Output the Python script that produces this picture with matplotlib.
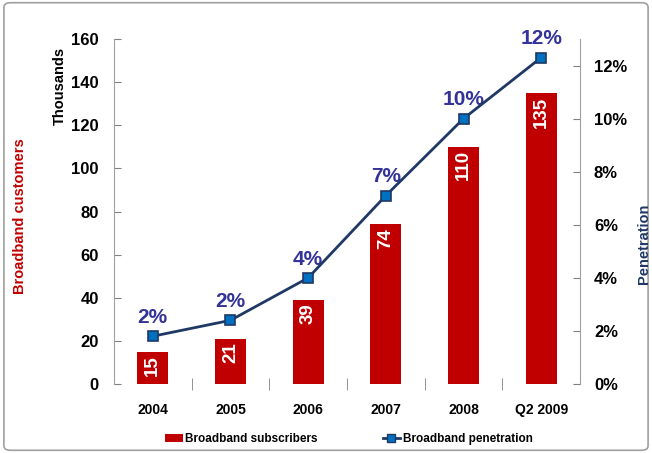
import matplotlib
matplotlib.use("Agg")
import matplotlib.pyplot as plt
from matplotlib.patches import FancyBboxPatch
from matplotlib.lines import Line2D
from matplotlib.patches import Patch
import numpy as np

plt.rcParams['font.family'] = ['Liberation Sans', 'DejaVu Sans']

categories = ["2004", "2005", "2006", "2007", "2008", "Q2 2009"]
subscribers = [15, 21, 39, 74, 110, 135]
penetration = [0.018, 0.024, 0.040, 0.071, 0.100, 0.123]
penetration_labels = ["2%", "2%", "4%", "7%", "10%", "12%"]

bar_color = "#C00000"
line_color = "#1F3864"
marker_face = "#0070C0"
pct_color = "#333399"

fig = plt.figure(figsize=(6.52, 4.53), dpi=100)
ax = fig.add_axes([0.1748, 0.1523, 0.7148, 0.7616])
x = np.arange(len(categories))

bars = ax.bar(x, subscribers, width=0.4, color=bar_color, zorder=2)
for xi, v in zip(x, subscribers):
    ax.annotate(str(v), (xi, v), xytext=(0, -2.5), textcoords="offset points",
                rotation=90, ha="center", va="top", color="white",
                fontsize=13.5, fontweight="bold", zorder=3)

ax.set_xlim(-0.5, len(categories) - 0.5)
ax.set_ylim(0, 160)
ax.set_yticks(range(0, 161, 20))
ax.set_xticks(x)
ax.set_xticklabels(categories, fontsize=10, fontweight="bold")
ax.set_xticks(np.arange(0.5, len(categories) - 1, 1), minor=True)
ax.tick_params(axis="x", which="major", length=0, pad=14)
ax.tick_params(axis="x", which="minor", length=8, direction="inout", color="#808080")
for lab in ax.get_yticklabels():
    lab.set_fontweight("bold")
ax.tick_params(axis="y", labelsize=12, direction="in", length=5, color="#808080", pad=11)
for s in ["top", "bottom", "right"]:
    ax.spines[s].set_visible(False)
ax.spines["left"].set_color("#A0A0A0")

ax2 = ax.twinx()
ax2.plot(x, penetration, color=line_color, lw=2, marker="s", markersize=6.5,
         markerfacecolor=marker_face, markeredgecolor=line_color, markeredgewidth=1.2, zorder=4)
for xi, v, t in zip(x, penetration, penetration_labels):
    ax2.annotate(t, (xi, v), xytext=(0, 9.5), textcoords="offset points",
                 ha="center", va="baseline", color=pct_color, fontsize=15, fontweight="bold")
ax2.set_ylim(0, 0.13)
ax2.set_yticks(np.arange(0, 0.121, 0.02))
ax2.set_yticklabels([f"{int(round(v*100))}%" for v in np.arange(0, 0.121, 0.02)])
for lab in ax2.get_yticklabels():
    lab.set_fontweight("bold")
ax2.tick_params(axis="y", labelsize=12, direction="in", length=5, color="#808080", pad=10)
for s in ["top", "bottom", "left"]:
    ax2.spines[s].set_visible(False)
ax2.spines["right"].set_color("#A0A0A0")

fig.text(0.092, 1 - 86 / 453, "Thousands", rotation=90, color="black",
         fontsize=10.5, fontweight="bold", ha="center", va="center")
fig.text(0.031, 1 - 216 / 453, "Broadband customers", rotation=90, color="#C00000",
         fontsize=10.5, fontweight="bold", ha="center", va="center")
fig.text(0.988, 1 - 244 / 453, "Penetration", rotation=90, color="#1F3864",
         fontsize=10.5, fontweight="bold", ha="center", va="center")

handles = [Patch(facecolor=bar_color, label="Broadband subscribers"),
           Line2D([0], [0], color=line_color, lw=2, marker="s", markersize=6,
                  markerfacecolor=marker_face, markeredgecolor=line_color,
                  label="Broadband penetration")]
fig.legend(handles=handles, loc="center", bbox_to_anchor=(0.535, 0.03), ncol=2,
           frameon=False, handlelength=1.5, handletextpad=0.2,
           columnspacing=5.5, prop={"weight": "bold", "size": 8.5})

border = FancyBboxPatch((0.006, 0.006), 0.988, 0.988, boxstyle="round,pad=0,rounding_size=0.01",
                        transform=fig.transFigure, fill=False, edgecolor="#A0A0A0", lw=1.2)
fig.patches.append(border)

fig.savefig("out.png", dpi=100)
